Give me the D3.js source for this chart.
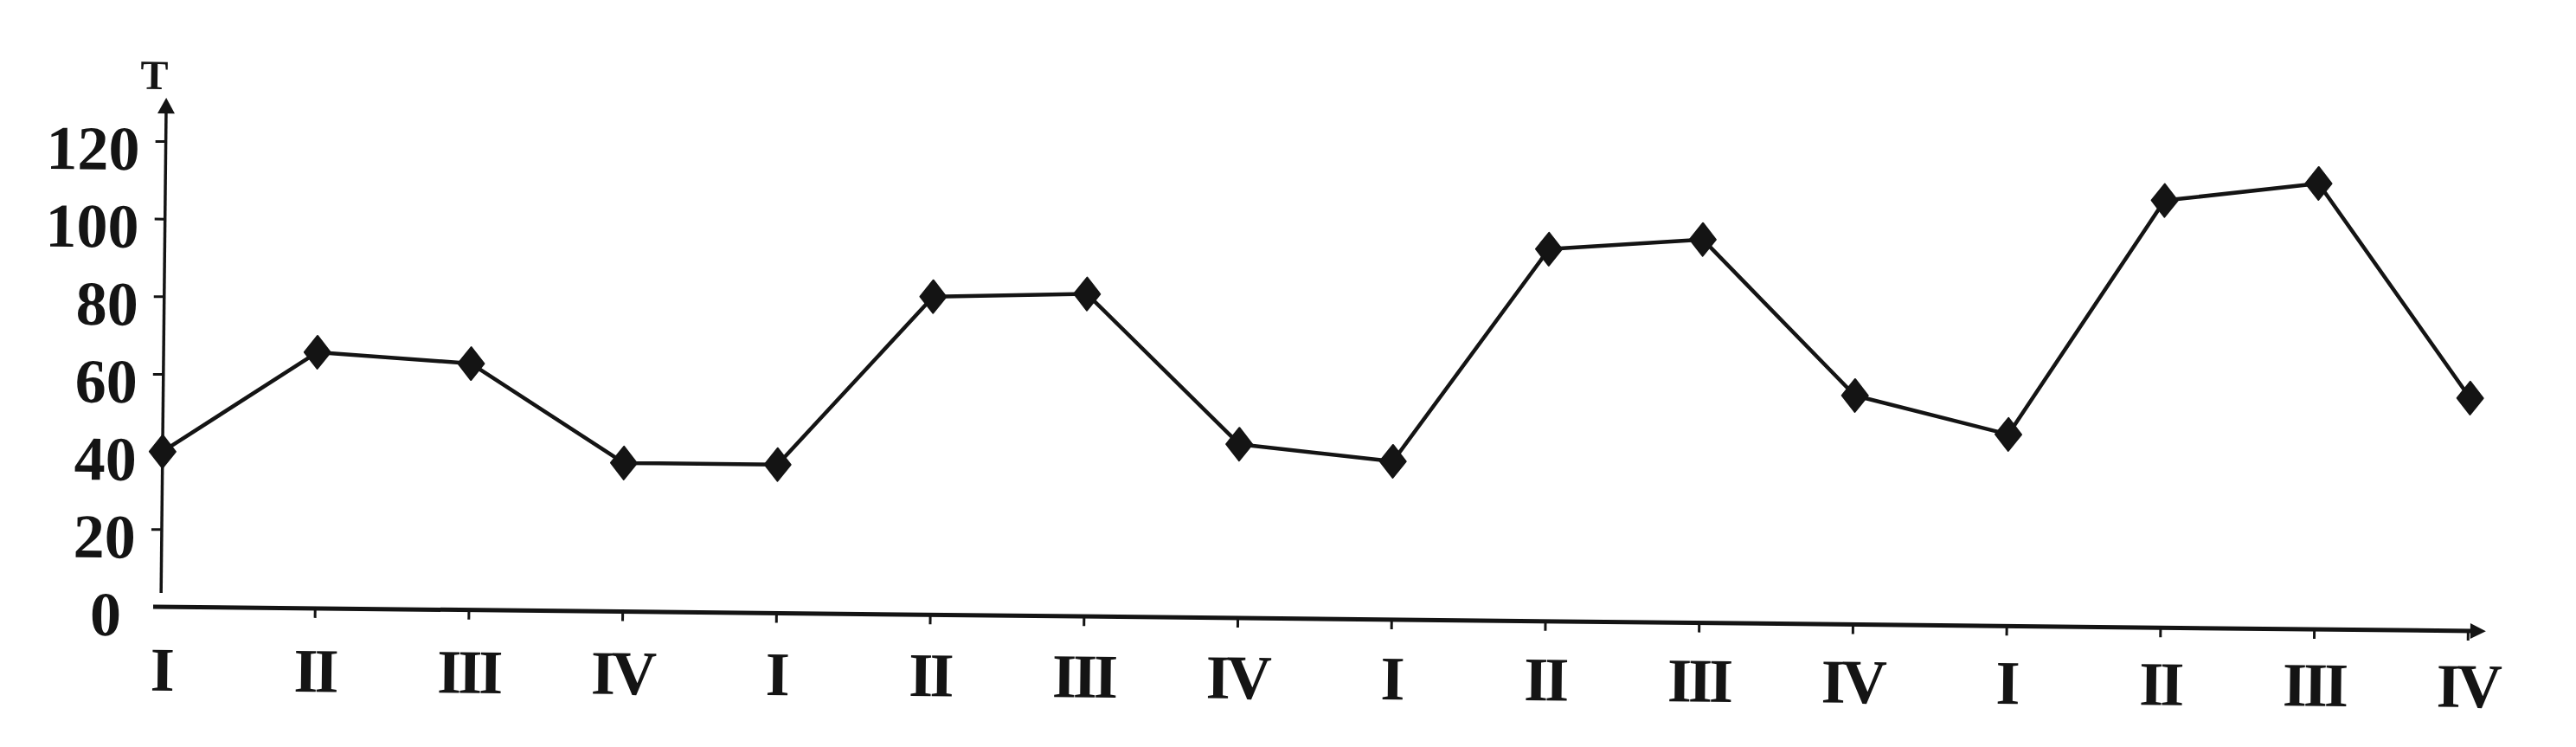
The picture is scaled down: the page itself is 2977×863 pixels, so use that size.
<!DOCTYPE html>
<html><head><meta charset="utf-8">
<script src="https://cdn.jsdelivr.net/npm/d3@7"></script>
<style>html,body{margin:0;padding:0;background:#fff;} svg{display:block;}</style>
</head><body><svg id="chart" width="2977" height="863"></svg>
<script>
// ---- data ----
const quarters = ["I","II","III","IV","I","II","III","IV","I","II","III","IV","I","II","III","IV"];
const values = [40.0, 66.0, 63.5, 38.3, 38.3, 82.0, 83.1, 44.8, 40.8, 95.9, 98.8, 59.0, 49.4, 110.1, 114.9, 60.0];
const yTicks = [0, 20, 40, 60, 80, 100, 120];
const yTitle = "T";

// ---- layout ----
const W = 2977, H = 863;
const origin = [186, 701];
const tilt = 0.6; // the scanned chart is slightly rotated
const ink = "#141414";
const font = "'Liberation Serif','Times New Roman',serif";

const svg = d3.select("#chart");
svg.append("rect").attr("width", W).attr("height", H).attr("fill", "#fff");
const g = svg.append("g").attr("transform", `translate(${origin[0]},${origin[1]}) rotate(${tilt})`);

const idx = d3.range(values.length);
const x = d3.scalePoint().domain(idx).range([0, 2666]);
const y = d3.scaleLinear().domain([0, 120]).range([0, -538]);

// ---- y axis ----
const yAxisG = g.append("g").call(
  d3.axisLeft(y).tickValues(yTicks).tickSize(12).tickPadding(30).tickFormat(d3.format("d"))
);
yAxisG.select(".domain").remove();
yAxisG.selectAll(".tick line")
  .attr("stroke", ink).attr("stroke-width", 3)
  .attr("opacity", d => d === 0 ? 0 : 1);
yAxisG.selectAll(".tick text")
  .attr("fill", ink).attr("font-family", font).attr("font-weight", "bold").attr("font-size", 72)
  .attr("dy", null).attr("y", 33)
  .attr("x", d => d === 0 ? -46 : -30);

const yTop = y(120) - 50;
g.append("line").attr("x1", 0).attr("x2", 0).attr("y1", -16).attr("y2", yTop + 14)
  .attr("stroke", ink).attr("stroke-width", 3.5);
g.append("path").attr("d", `M0,${yTop} L10,${yTop + 18} L-10,${yTop + 18} Z`).attr("fill", ink);
g.append("text").attr("x", -14).attr("y", yTop - 10).attr("text-anchor", "middle")
  .attr("font-family", font).attr("font-weight", "bold").attr("font-size", 48).attr("fill", ink)
  .text(yTitle);

// ---- x axis ----
const xAxisG = g.append("g").call(
  d3.axisBottom(x).tickSize(11).tickFormat(i => quarters[i])
);
xAxisG.select(".domain").remove();
xAxisG.selectAll(".tick line")
  .attr("stroke", ink).attr("stroke-width", 3)
  .attr("opacity", d => d === 0 ? 0 : 1);
xAxisG.selectAll(".tick text")
  .attr("fill", ink).attr("font-family", font).attr("font-weight", "bold").attr("font-size", 72)
  .attr("letter-spacing", -4).attr("dy", null)
  .attr("y", d => 97 - 9 * d / (values.length - 1));

const xEnd = x(idx[idx.length - 1]) + 21;
g.append("line").attr("x1", -9).attr("x2", xEnd - 14).attr("y1", 0).attr("y2", 0)
  .attr("stroke", ink).attr("stroke-width", 5);
g.append("path").attr("d", `M${xEnd},0 L${xEnd - 18},-9 L${xEnd - 18},9 Z`).attr("fill", ink);

// ---- series ----
const line = d3.line().x(i => x(i)).y(i => y(values[i]));
g.append("path").datum(idx).attr("d", line)
  .attr("fill", "none").attr("stroke", ink).attr("stroke-width", 4.5).attr("stroke-linejoin", "round");

g.selectAll("path.marker").data(idx).join("path").attr("class", "marker")
  .attr("transform", i => `translate(${x(i)},${y(values[i])})`)
  .attr("d", "M0,-19 L15,0 L0,19 L-15,0 Z")
  .attr("fill", ink).attr("stroke", ink).attr("stroke-width", 2).attr("stroke-linejoin", "round");
</script>
</body></html>
